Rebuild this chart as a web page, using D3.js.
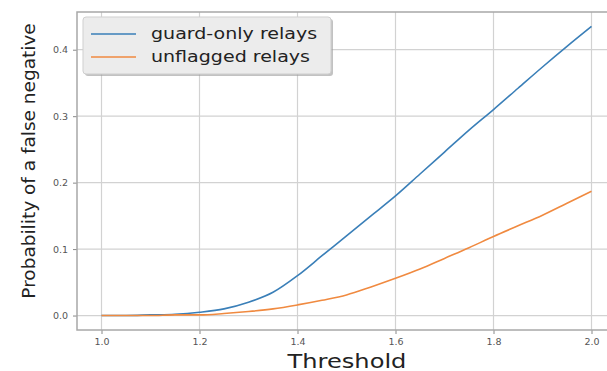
<!DOCTYPE html>
<html>
<head>
<meta charset="utf-8">
<script src="https://cdn.jsdelivr.net/npm/d3@7"></script>
<style>
  body { margin: 0; background: #fff; }
  text { font-family: "DejaVu Sans", sans-serif; }
</style>
</head>
<body>
<div id="chart"></div>
<script>
// thresholds and probabilities
var thresholds = [1.0, 1.05, 1.1, 1.15, 1.2, 1.25, 1.3, 1.35, 1.4, 1.45, 1.5, 1.55, 1.6, 1.65, 1.7, 1.75, 1.8, 1.85, 1.9, 1.95, 2.0];
var guardOnly = [0, 0, 0.001, 0.002, 0.005, 0.01, 0.02, 0.035, 0.06, 0.09, 0.12, 0.15, 0.18, 0.213, 0.246, 0.279, 0.31, 0.342, 0.374, 0.405, 0.435];
var unflagged = [0, 0, 0, 0.001, 0.001, 0.003, 0.006, 0.01, 0.016, 0.023, 0.031, 0.043, 0.056, 0.07, 0.086, 0.102, 0.119, 0.135, 0.151, 0.169, 0.187];
var seriesNames = ['guard-only relays', 'unflagged relays'];
var seriesColors = ['#3a7fb8', '#f08a40'];
var xTicks = [1.0, 1.2, 1.4, 1.6, 1.8, 2.0];
var yTicks = [0.0, 0.1, 0.2, 0.3, 0.4];

var width = 607,
    height = 371,
    stretch = 1.27; // the figure's text is drawn a bit wide

var svg = d3.select('#chart').append('svg')
    .attr('width', width)
    .attr('height', height);

var mLeft = 77, mRight = 616, mTop = 12, mBottom = 330;

var xScale = d3.scaleLinear()
    .domain([0.95, 2.05])
    .range([mLeft, mRight]);

var yScale = d3.scaleLinear()
    .domain([-0.02175, 0.45675])
    .range([mBottom, mTop]);

// grid
svg.append('g')
    .selectAll('line')
    .data(xTicks)
    .enter()
    .append('line')
    .attr('x1', function(d) { return xScale(d) })
    .attr('x2', function(d) { return xScale(d) })
    .attr('y1', mTop)
    .attr('y2', mBottom)
    .attr('stroke', '#d2d2d2')
    .attr('stroke-width', 1.2)

svg.append('g')
    .selectAll('line')
    .data(yTicks)
    .enter()
    .append('line')
    .attr('x1', mLeft)
    .attr('x2', mRight)
    .attr('y1', function(d) { return yScale(d) })
    .attr('y2', function(d) { return yScale(d) })
    .attr('stroke', '#d2d2d2')
    .attr('stroke-width', 1.2)

// axes
var xAxis = svg.append('g')
    .attr('transform', 'translate(0,' + mBottom + ')')
    .call(d3.axisBottom(xScale).tickValues(xTicks).tickFormat(d3.format('.1f')).tickSize(4).tickPadding(4))

var yAxis = svg.append('g')
    .attr('transform', 'translate(' + mLeft + ',0)')
    .call(d3.axisLeft(yScale).tickValues(yTicks).tickFormat(d3.format('.1f')).tickSize(4).tickPadding(5))

xAxis.selectAll('text').style('font-size', '9.5px').attr('fill', '#555')
yAxis.selectAll('text').style('font-size', '9.5px').attr('fill', '#555')
xAxis.selectAll('line').attr('stroke', '#888')
yAxis.selectAll('line').attr('stroke', '#888')
xAxis.select('.domain').remove()
yAxis.select('.domain').remove()

// spines
svg.append('rect')
    .attr('x', mLeft)
    .attr('y', mTop)
    .attr('width', mRight - mLeft)
    .attr('height', mBottom - mTop)
    .attr('fill', 'none')
    .attr('stroke', '#a8a8a8')
    .attr('stroke-width', 1.5)

// lines
var line = d3.line()
    .x(function(d, i) { return xScale(thresholds[i]) })
    .y(function(d) { return yScale(d) })
    .curve(d3.curveMonotoneX);

[guardOnly, unflagged].forEach(function(s, i) {
  svg.append('path')
      .datum(s)
      .attr('d', line)
      .attr('fill', 'none')
      .attr('stroke', seriesColors[i])
      .attr('stroke-width', 1.6)
})

// legend
var legend = svg.append('g')

legend.append('rect')
    .attr('x', 85)
    .attr('y', 19)
    .attr('width', 248)
    .attr('height', 57)
    .attr('rx', 3)
    .attr('fill', '#999')
    .attr('opacity', 0.6)

legend.append('rect')
    .attr('x', 83)
    .attr('y', 17)
    .attr('width', 248)
    .attr('height', 57)
    .attr('rx', 3)
    .attr('fill', '#ececec')
    .attr('stroke', '#cfcfcf')

seriesNames.forEach(function(name, i) {
  var y = 34 + i * 23;
  legend.append('line')
      .attr('x1', 91)
      .attr('x2', 136)
      .attr('y1', y)
      .attr('y2', y)
      .attr('stroke', seriesColors[i])
      .attr('stroke-width', 1.6)
  legend.append('text')
      .attr('transform', 'translate(151,' + y + ') scale(' + stretch + ',1)')
      .attr('dy', '0.35em')
      .style('font-size', '15px')
      .attr('fill', '#222')
      .text(name)
})

// axis titles
svg.append('text')
    .attr('transform', 'translate(347,368) scale(' + stretch + ',1)')
    .attr('text-anchor', 'middle')
    .style('font-size', '19px')
    .attr('fill', '#222')
    .text('Threshold')

svg.append('text')
    .attr('transform', 'translate(35,161) rotate(-90)')
    .attr('text-anchor', 'middle')
    .style('font-size', '18.5px')
    .attr('fill', '#222')
    .text('Probability of a false negative')
</script>
</body>
</html>
